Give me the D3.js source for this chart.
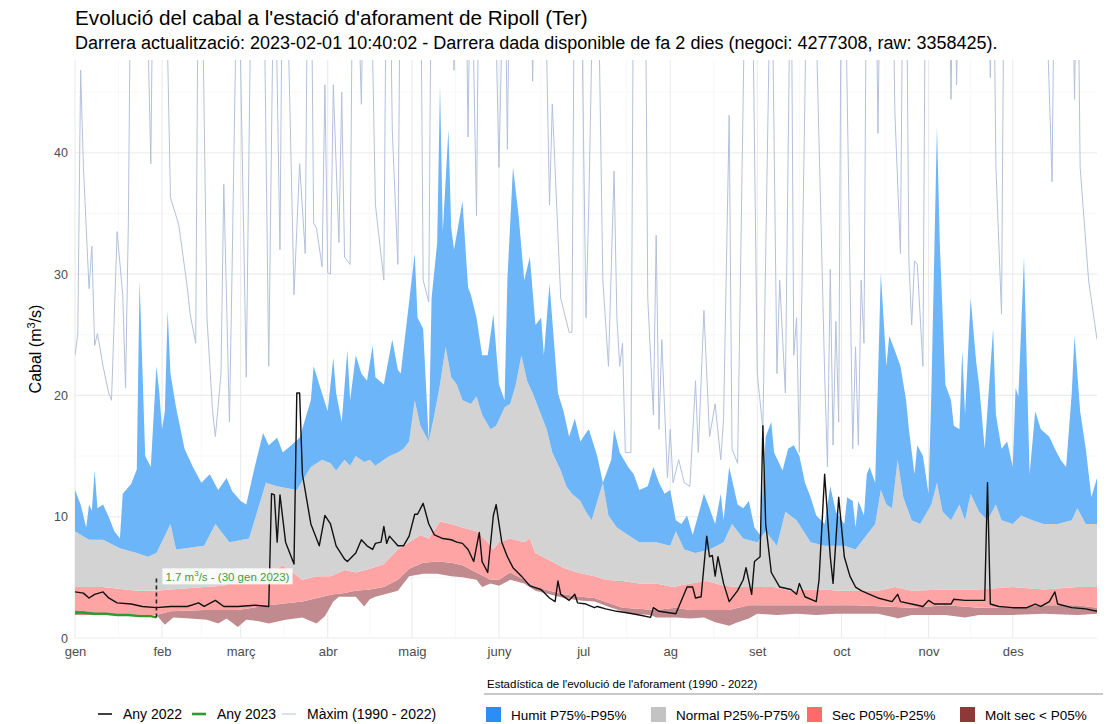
<!DOCTYPE html>
<html>
<head>
<meta charset="utf-8">
<script src="https://cdn.jsdelivr.net/npm/d3@7"></script>
<style>
  body { margin: 0; background: #fff; }
  svg { font-family: "Liberation Sans", Arial, Helvetica, sans-serif; }
</style>
</head>
<body>
<svg id="chart" width="1115" height="724"></svg>
<script>
// day of year -> flow (m3/s), statistics 1990-2022
const p95 = [[1,12.2],[3,11.0],[5,9.1],[6,11.0],[7,10.5],[8,13.8],[9,10.7],[11,11.0],[13,10.0],[15,8.8],[17,8.2],[18,11.9],[21,12.7],[23,13.9],[24,29.5],[26,15.0],[28,14.1],[30,22.4],[31,20.3],[32,17.2],[33,18.7],[34,27.0],[35,21.8],[37,19.0],[40,15.6],[43,14.1],[46,12.8],[49,13.5],[52,12.2],[55,13.2],[57,12.1],[60,11.3],[62,11.0],[65,14.1],[68,16.9],[70,15.9],[73,16.5],[75,15.3],[78,15.9],[81,16.5],[85,19.6],[86,22.4],[88,20.9],[91,18.7],[93,23.1],[94,20.2],[96,17.8],[98,23.7],[99,19.6],[101,23.3],[103,21.8],[105,21.2],[107,24.1],[108,21.5],[111,20.9],[114,24.6],[116,22.1],[117,21.8],[120,27.7],[122,31.7],[123,26.4],[125,25.5],[127,16.2],[128,28.0],[130,32.6],[131,45.6],[132,33.5],[134,41.9],[135,33.8],[136,32.0],[139,36.0],[141,28.9],[142,28.3],[144,26.4],[146,23.3],[148,23.3],[150,26.7],[152,20.9],[154,19.6],[155,29.5],[157,38.8],[159,34.8],[161,29.5],[163,31.4],[165,25.8],[167,26.4],[168,23.3],[170,29.2],[173,20.2],[175,18.7],[177,16.6],[179,18.1],[181,16.2],[183,16.9],[184,17.2],[187,15.0],[189,12.8],[192,14.7],[193,17.2],[195,15.3],[198,14.1],[200,13.5],[202,12.2],[205,12.5],[207,14.1],[209,12.8],[211,11.9],[213,12.2],[215,9.7],[217,9.4],[219,10.1],[221,8.5],[224,11.0],[225,11.9],[227,10.7],[229,9.4],[231,11.9],[232,9.7],[234,14.1],[237,11.0],[239,10.7],[241,11.3],[243,9.1],[245,8.5],[247,16.6],[249,17.8],[250,15.3],[253,13.8],[255,15.6],[257,15.9],[259,15.0],[261,12.8],[263,11.6],[265,10.1],[268,9.4],[270,12.5],[272,10.4],[275,9.4],[276,11.6],[278,11.3],[279,9.1],[280,11.3],[282,10.1],[283,13.5],[284,14.1],[286,12.8],[288,30.1],[290,22.4],[291,24.9],[293,23.7],[295,22.4],[297,19.6],[298,17.2],[300,13.5],[301,15.9],[303,15.0],[305,11.9],[306,20.2],[308,42.2],[309,32.6],[311,20.9],[313,19.6],[314,17.5],[316,17.2],[317,23.7],[318,18.4],[320,28.0],[322,22.7],[323,20.9],[325,15.6],[328,25.5],[329,18.4],[331,15.6],[333,16.2],[335,14.1],[336,20.6],[337,19.9],[339,31.4],[341,13.5],[343,18.7],[345,17.2],[348,16.6],[350,15.6],[352,14.7],[354,14.1],[356,20.2],[357,24.9],[359,18.7],[361,15.6],[363,11.6],[365,13.2]];

const p75 = [[1,8.8],[6,8.1],[11,8.1],[17,7.4],[23,7.0],[27,6.7],[30,7.0],[35,9.4],[37,7.3],[47,7.6],[51,9.4],[56,7.9],[63,8.2],[69,12.8],[73,12.5],[80,12.2],[85,14.1],[89,14.7],[92,14.4],[94,13.8],[97,14.7],[99,14.2],[101,15.0],[104,14.5],[106,14.7],[108,14.2],[111,14.7],[113,15.0],[116,15.3],[118,15.6],[120,16.2],[122,19.6],[124,17.5],[127,16.2],[129,18.4],[131,20.9],[133,24.0],[135,21.5],[137,20.9],[139,19.6],[142,19.3],[144,19.9],[146,18.4],[149,17.2],[151,17.5],[154,19.0],[156,19.3],[158,20.9],[160,23.3],[162,21.2],[164,20.2],[167,18.4],[169,17.2],[171,15.3],[174,13.8],[176,12.5],[178,11.9],[181,11.3],[183,10.4],[185,9.7],[189,12.8],[191,10.1],[194,9.1],[198,8.5],[202,7.9],[208,7.9],[213,7.6],[215,8.8],[218,7.3],[222,7.0],[227,7.3],[232,7.9],[235,9.4],[239,8.2],[244,7.9],[247,8.8],[251,7.6],[254,10.4],[258,9.7],[263,7.9],[268,7.6],[272,7.6],[275,7.6],[279,7.3],[282,8.2],[286,9.4],[288,12.2],[290,11.0],[292,10.7],[294,14.7],[296,11.6],[299,9.7],[302,9.4],[306,11.0],[308,12.8],[310,10.4],[313,9.7],[316,11.0],[318,9.7],[320,11.9],[323,10.4],[326,9.7],[329,11.0],[331,9.7],[335,9.4],[338,10.1],[342,9.7],[346,9.4],[351,9.4],[356,9.7],[358,10.7],[361,9.4],[365,9.4]];

const p25 = [[1,4.2],[11,4.2],[23,3.9],[30,3.9],[35,4.0],[47,4.2],[54,4.3],[61,5.0],[66,5.4],[70,5.3],[75,6.0],[82,4.8],[87,5.1],[92,5.1],[97,5.6],[101,5.4],[106,5.7],[111,6.1],[116,7.3],[120,7.9],[124,8.5],[127,8.2],[131,9.6],[135,9.4],[139,9.1],[144,8.8],[148,7.9],[150,7.3],[152,7.9],[156,8.2],[161,7.9],[163,8.2],[165,7.0],[170,6.4],[175,5.8],[180,5.4],[186,5.1],[190,4.8],[196,4.7],[202,4.5],[208,4.5],[214,4.2],[220,4.5],[226,4.7],[232,4.3],[238,4.2],[244,4.2],[250,4.2],[256,3.9],[262,4.0],[268,4.0],[273,3.9],[287,3.9],[293,4.2],[299,3.9],[311,4.0],[323,4.0],[335,4.2],[346,4.0],[358,4.2],[365,4.2]];

const p05 = [[1,2.3],[11,2.0],[23,1.9],[30,1.9],[35,2.2],[47,2.3],[59,2.3],[70,2.7],[82,3.0],[93,3.6],[97,3.7],[101,3.9],[106,4.0],[111,4.2],[116,4.8],[120,5.7],[125,6.2],[130,6.3],[135,6.2],[139,6.0],[144,5.4],[149,4.8],[152,4.8],[156,5.4],[161,4.8],[165,4.2],[170,3.9],[175,3.6],[181,3.4],[186,3.3],[196,2.5],[208,2.3],[215,2.5],[220,2.3],[227,2.3],[234,2.3],[241,2.7],[248,2.7],[256,2.7],[268,2.7],[279,2.7],[299,2.5],[311,2.7],[323,2.5],[335,2.5],[346,2.7],[358,2.7],[365,2.5]];

const pMin = [[1,1.9],[30,1.9],[33,1.1],[36,1.7],[42,1.6],[48,1.5],[52,1.2],[55,1.6],[59,0.9],[62,1.5],[66,1.4],[70,1.2],[76,1.5],[82,1.7],[87,1.2],[90,1.8],[93,3.0],[95,3.4],[101,3.4],[104,2.6],[106,3.2],[108,3.4],[116,3.9],[120,5.1],[125,5.3],[130,5.3],[135,5.1],[139,5.0],[144,4.8],[146,4.2],[149,4.5],[152,4.3],[156,4.8],[161,4.5],[165,3.9],[170,3.6],[175,3.3],[181,3.1],[186,3.0],[192,2.5],[199,2.0],[206,1.9],[208,1.7],[215,1.7],[220,1.6],[225,1.7],[229,1.3],[234,1.0],[237,1.3],[241,1.6],[244,2.0],[251,1.9],[258,2.0],[265,1.9],[272,2.0],[279,2.0],[287,2.0],[293,1.7],[294,1.6],[299,1.9],[311,1.9],[318,1.7],[323,1.9],[335,1.9],[346,2.0],[358,1.9],[365,2.0]];

// maximum 1990-2022 (values above the panel are cut by the clip)
const maxQ = [[1,23.3],[2,25.1],[3,46.8],[4,38.8],[6,28.8],[7,32.3],[8,24.1],[9,25.1],[11,22.4],[13,20.2],[14,19.6],[16,33.5],[18,28.3],[19,20.6],[20,34.2],[21,60],[26,60],[28,39.1],[29,60],[33,60],[35,36.3],[37,34.8],[38,34.0],[41,28.9],[42,26.7],[44,24.3],[45,60],[46,60],[48,26.4],[50,18.7],[51,16.6],[53,21.8],[54,37.4],[56,17.8],[57,31.1],[59,60],[62,21.5],[64,60],[68,60],[70,22.4],[72,60],[74,32.0],[75,60],[76,60],[79,28.3],[81,39.1],[83,31.7],[84,60],[85,60],[86,34.2],[87,33.8],[89,30.6],[90,45.6],[91,30.1],[92,30.0],[93,45.6],[95,32.6],[96,45.0],[97,31.4],[99,30.8],[100,60],[101,60],[103,44.0],[104,60],[106,60],[108,35.7],[111,29.5],[112,60],[113,60],[114,41.9],[116,30.8],[117,60],[124,60],[125,29.5],[127,27.7],[128,60],[135,60],[136,46.8],[137,60],[140,60],[141,41.3],[142,60],[144,34.8],[145,60],[150,60],[152,38.8],[154,60],[155,40.3],[156,60],[163,60],[164,45.9],[165,60],[168,60],[170,35.7],[171,44.0],[174,28.0],[177,25.2],[178,25.2],[179,60],[181,60],[183,26.4],[184,35.7],[186,60],[187,60],[189,29.5],[191,22.4],[193,38.5],[194,26.4],[195,22.4],[196,24.3],[197,15.3],[199,15.3],[200,60],[204,60],[205,28.0],[207,18.4],[208,33.2],[209,17.2],[210,24.6],[212,13.2],[213,17.2],[214,12.8],[216,14.7],[218,12.8],[220,12.5],[222,21.2],[223,15.3],[225,27.0],[227,16.6],[229,19.3],[231,14.7],[232,18.1],[234,43.1],[235,15.6],[237,14.4],[240,60],[242,60],[244,21.8],[246,17.2],[249,60],[251,21.8],[252,29.5],[254,20.2],[256,60],[257,23.3],[258,26.4],[259,15.3],[262,60],[264,60],[268,21.8],[269,14.1],[270,30.4],[271,15.9],[272,26.1],[273,17.8],[274,60],[275,60],[278,15.6],[279,24.0],[280,15.9],[281,29.5],[282,24.3],[283,60],[286,60],[287,41.6],[288,60],[292,60],[293,43.4],[295,31.7],[296,60],[297,60],[298,31.1],[299,25.8],[300,31.1],[301,30.8],[303,22.4],[304,60],[312,60],[313,44.4],[314,60],[315,45.6],[316,60],[326,60],[327,46.2],[328,60],[329,38.8],[331,26.7],[332,60],[346,60],[349,37.6],[350,60],[356,60],[357,44.4],[358,60],[359,38.8],[362,29.5],[365,24.6]];

const year2022 = [[1,3.8],[4,3.7],[6,3.3],[8,3.6],[11,3.8],[13,3.3],[16,2.9],[21,2.8],[25,2.6],[30,2.5],[35,2.6],[41,2.6],[45,2.9],[47,2.6],[51,3.1],[54,2.6],[59,2.6],[65,2.7],[70,2.6],[71,11.9],[72,11.8],[73,7.9],[74,11.8],[76,7.9],[79,6.1],[80,20.2],[81,20.2],[82,13.5],[85,9.4],[88,7.6],[90,10.1],[92,9.4],[94,7.6],[97,6.5],[98,6.3],[101,7.0],[103,8.1],[105,7.6],[107,7.3],[108,7.8],[110,7.9],[111,9.2],[112,7.8],[113,8.4],[116,7.6],[118,7.6],[120,8.4],[122,10.2],[123,10.2],[125,11.1],[127,9.4],[129,8.5],[132,8.2],[135,8.1],[137,7.9],[139,7.8],[141,7.3],[143,6.3],[145,8.7],[146,6.3],[148,5.4],[150,10.1],[151,11.0],[153,7.9],[155,6.7],[157,5.8],[160,5.1],[163,4.3],[167,4.0],[170,3.3],[172,3.0],[173,4.7],[174,3.6],[177,3.1],[179,3.6],[180,2.9],[183,2.8],[186,2.5],[187,2.6],[190,2.4],[194,2.2],[197,2.1],[202,1.9],[206,1.7],[207,2.5],[209,2.2],[215,2.0],[219,4.2],[221,4.2],[222,3.3],[224,3.4],[226,8.4],[227,6.7],[228,6.8],[229,5.1],[230,6.7],[232,4.5],[234,3.0],[237,3.9],[239,4.8],[240,5.8],[242,3.6],[243,6.3],[245,6.7],[246,17.5],[247,9.4],[249,5.4],[252,4.2],[256,4.0],[258,3.6],[259,4.5],[261,3.4],[265,3.0],[266,4.8],[268,13.5],[270,6.7],[271,4.5],[273,11.6],[275,6.7],[277,5.1],[279,4.2],[281,3.9],[284,3.6],[287,3.3],[292,3.0],[294,3.6],[295,3.0],[299,2.8],[303,2.6],[305,3.1],[307,2.8],[313,2.8],[314,3.2],[318,3.1],[325,3.1],[326,12.8],[327,2.8],[330,2.6],[335,2.5],[340,2.5],[343,2.8],[345,2.6],[348,3.0],[350,3.8],[351,2.8],[356,2.5],[361,2.4],[365,2.2]];

const year2023 = [[1,2.1],[4,2.1],[8,2.0],[12,2.0],[16,1.9],[20,1.9],[24,1.8],[28,1.8],[30,1.7]];

const monthLabels = ["gen","feb","març","abr","maig","juny","jul","ag","set","oct","nov","des"];
const monthStarts = [1,32,60,91,121,152,182,213,244,274,305,335];
const yTicks = [0,10,20,30,40];
const yMinorTicks = [5,15,25,35,45];

const svg = d3.select("svg#chart");
const pLeft = 75, pRight = 1097, pTop = 60, pBottom = 638;

const x = d3.scaleLinear().domain([1, 365]).range([pLeft, pRight]);
const y = d3.scaleLinear().domain([0, 47.65]).range([pBottom, pTop]);

svg.append("defs").append("clipPath").attr("id", "panel")
  .append("rect").attr("x", pLeft).attr("y", pTop)
  .attr("width", pRight - pLeft).attr("height", pBottom - pTop + 4);

// grid
const grid = svg.append("g");
const xMinor = monthStarts.slice(1).map((d, i) => (d + monthStarts[i]) / 2);
grid.selectAll(".ymin").data(yMinorTicks).enter().append("line")
  .attr("x1", pLeft).attr("x2", pRight)
  .attr("y1", d => y(d)).attr("y2", d => y(d))
  .attr("stroke", "#f3f3f3").attr("stroke-width", 0.6);
grid.selectAll(".xmin").data(xMinor).enter().append("line")
  .attr("x1", d => x(d)).attr("x2", d => x(d))
  .attr("y1", pTop).attr("y2", pBottom)
  .attr("stroke", "#f3f3f3").attr("stroke-width", 0.6);
grid.selectAll(".ymaj").data(yTicks).enter().append("line")
  .attr("x1", pLeft).attr("x2", pRight)
  .attr("y1", d => y(d)).attr("y2", d => y(d))
  .attr("stroke", "#ebebeb").attr("stroke-width", 1.1);
grid.selectAll(".xmaj").data(monthStarts).enter().append("line")
  .attr("x1", d => x(d)).attr("x2", d => x(d))
  .attr("y1", pTop).attr("y2", pBottom)
  .attr("stroke", "#ebebeb").attr("stroke-width", 1.1);

const line = d3.line().x(d => x(d[0])).y(d => y(d[1]));
function bandPath(upper, lower) {
  return line(upper.concat(lower.slice().reverse())) + "Z";
}

const plot = svg.append("g").attr("clip-path", "url(#panel)");

plot.append("path").attr("d", line(maxQ))
  .attr("fill", "none").attr("stroke", "#b3c1dc").attr("stroke-width", 1);

plot.append("path").attr("d", bandPath(p05, pMin)).attr("fill", "#c08a8e");
plot.append("path").attr("d", bandPath(p25, p05)).attr("fill", "#ffa4a4");
plot.append("path").attr("d", bandPath(p75, p25)).attr("fill", "#d3d3d3");
plot.append("path").attr("d", bandPath(p95, p75)).attr("fill", "#6cb5f9");

plot.append("path").attr("d", line(year2022))
  .attr("fill", "none").attr("stroke", "#111").attr("stroke-width", 1.4)
  .attr("stroke-linejoin", "round");
plot.append("path").attr("d", line(year2023))
  .attr("fill", "none").attr("stroke", "#2f9a2f").attr("stroke-width", 2.4);

// last value annotation
const last = year2023[year2023.length - 1];
const labelY = 5.0;
plot.append("line")
  .attr("x1", x(last[0])).attr("x2", x(last[0]))
  .attr("y1", y(last[1])).attr("y2", y(labelY))
  .attr("stroke", "#222").attr("stroke-width", 1.6).attr("stroke-dasharray", "4,3");
const ann = svg.append("g");
const annText = ann.append("text")
  .attr("x", x(last[0]) + 9).attr("y", y(labelY) + 4)
  .attr("font-size", 11.5).attr("fill", "#3f9c3a");
annText.append("tspan").text(last[1].toFixed(1) + " m");
annText.append("tspan").attr("dy", -5).attr("font-size", 8).text("3");
annText.append("tspan").attr("dy", 5).text("/s - (" + last[0] + " gen 2023)");
const bb = annText.node().getBBox();
ann.insert("rect", "text")
  .attr("x", bb.x - 3).attr("y", bb.y - 1)
  .attr("width", bb.width + 6).attr("height", bb.height + 2)
  .attr("fill", "#fff").attr("opacity", 0.9);

// axes
const yAxis = svg.append("g").attr("transform", `translate(${pLeft - 4},0)`)
  .call(d3.axisLeft(y).tickValues(yTicks).tickSize(0).tickPadding(3));
yAxis.select(".domain").remove();
yAxis.selectAll("text").attr("font-size", 12.5).attr("fill", "#4d4d4d")
  .attr("font-family", "Liberation Sans, Arial, sans-serif");

const xAxis = svg.append("g").attr("transform", `translate(0,${pBottom + 5})`)
  .call(d3.axisBottom(x).tickValues(monthStarts)
    .tickFormat((d, i) => monthLabels[i]).tickSize(0).tickPadding(4));
xAxis.select(".domain").remove();
xAxis.selectAll("text").attr("font-size", 13).attr("fill", "#4d4d4d")
  .attr("font-family", "Liberation Sans, Arial, sans-serif");

// y title
const yTitle = svg.append("text")
  .attr("transform", `translate(41,${(pTop + pBottom) / 2}) rotate(-90)`)
  .attr("text-anchor", "middle").attr("font-size", 16).attr("fill", "#000");
yTitle.append("tspan").text("Cabal (m");
yTitle.append("tspan").attr("dy", -6).attr("font-size", 11).text("3");
yTitle.append("tspan").attr("dy", 6).text("/s)");

// titles
svg.append("text").attr("x", pLeft).attr("y", 25)
  .attr("font-size", 20.7).attr("fill", "#000")
  .text("Evolució del cabal a l'estació d'aforament de Ripoll (Ter)");
svg.append("text").attr("x", pLeft).attr("y", 49)
  .attr("font-size", 18).attr("fill", "#000")
  .text("Darrera actualització: 2023-02-01 10:40:02 - Darrera dada disponible de fa 2 dies (negoci: 4277308, raw: 3358425).");

// legend: lines
const lineKeys = [
  {label: "Any 2022", color: "#111", width: 1.6, x: 98},
  {label: "Any 2023", color: "#2f9a2f", width: 2.6, x: 192},
  {label: "Màxim (1990 - 2022)", color: "#b3c1dc", width: 1, x: 282}
];
const lg = svg.append("g");
lineKeys.forEach(k => {
  lg.append("line").attr("x1", k.x).attr("x2", k.x + 14)
    .attr("y1", 714).attr("y2", 714)
    .attr("stroke", k.color).attr("stroke-width", k.width);
  lg.append("text").attr("x", k.x + 25).attr("y", 719)
    .attr("font-size", 14).attr("fill", "#000").text(k.label);
});

// legend: statistics
const statKeys = [
  {label: "Humit P75%-P95%", color: "#2b8ef5", x: 486},
  {label: "Normal P25%-P75%", color: "#c3c3c3", x: 651},
  {label: "Sec P05%-P25%", color: "#ff6b6b", x: 807},
  {label: "Molt sec < P05%", color: "#8e3838", x: 960}
];
const sg = svg.append("g");
sg.append("text").attr("x", 487).attr("y", 688)
  .attr("font-size", 11.5).attr("fill", "#000")
  .text("Estadística de l'evolució de l'aforament (1990 - 2022)");
sg.append("line").attr("x1", 484).attr("x2", 1103)
  .attr("y1", 694).attr("y2", 694).attr("stroke", "#666").attr("stroke-width", 0.7);
statKeys.forEach(k => {
  sg.append("rect").attr("x", k.x).attr("y", 707).attr("width", 15).attr("height", 15)
    .attr("fill", k.color);
  sg.append("text").attr("x", k.x + 25).attr("y", 719.5)
    .attr("font-size", 13.5).attr("fill", "#000").text(k.label);
});
</script>
</body>
</html>
